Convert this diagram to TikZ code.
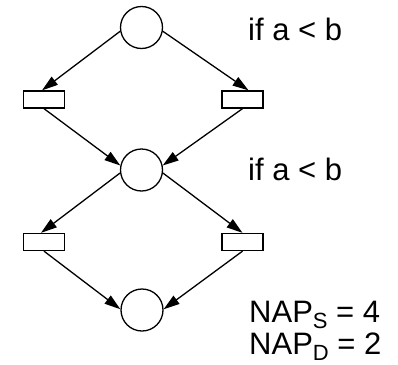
\documentclass[tikz,border=0pt]{standalone}
\usepackage{fontspec}
\setmainfont{Liberation Sans}
\usetikzlibrary{arrows.meta}
\newcommand{\lowsub}[1]{\raisebox{-6pt}{\fontsize{22}{22}\selectfont #1}}
\begin{document}
\begin{tikzpicture}[x=1pt,y=-1pt,
  place/.style={circle,draw,line width=1.3pt,minimum size=42pt,inner sep=0pt},
  trans/.style={rectangle,draw,line width=1.3pt,minimum width=41pt,minimum height=17pt,inner sep=0pt},
  arc/.style={line width=1.3pt,-{Triangle[length=16pt,width=10pt]}},
  lbl/.style={anchor=base west,inner sep=0pt,font=\fontsize{31}{33}\selectfont}]
\useasboundingbox (0,0) rectangle (398,364);
% places
\node[place] (p1) at (141.5,27.5) {};
\node[place] (p2) at (141.5,170) {};
\node[place] (p3) at (142,310) {};
% transitions
\node[trans] (t1) at (44,99.5) {};
\node[trans] (t2) at (242.5,99.5) {};
\node[trans] (t3) at (44,242) {};
\node[trans] (t4) at (242.5,242) {};
% arcs
\draw[arc] (p1.190) -- ([xshift=-2pt]t1.north);
\draw[arc] (p1.-10) -- ([xshift=6pt]t2.north);
\draw[arc] (t1.south) -- (p2.168);
\draw[arc] (t2.south) -- (p2.12);
\draw[arc] (p2.188) -- ([xshift=-3pt]t3.north);
\draw[arc] (p2.-8) -- (t4.north);
\draw[arc] (t3.south) -- (p3.178);
\draw[arc] (t4.south) -- (p3.2);
% annotations
\node[lbl] (c1) at (248,40) {if a < b};
\node[lbl] (c2) at (248,180) {if a < b};
\node[lbl] (n1) at (249,322) {NAP\lowsub{S} = 4};
\node[lbl] (n2) at (249,354) {NAP\lowsub{D} = 2};
\end{tikzpicture}
\end{document}
